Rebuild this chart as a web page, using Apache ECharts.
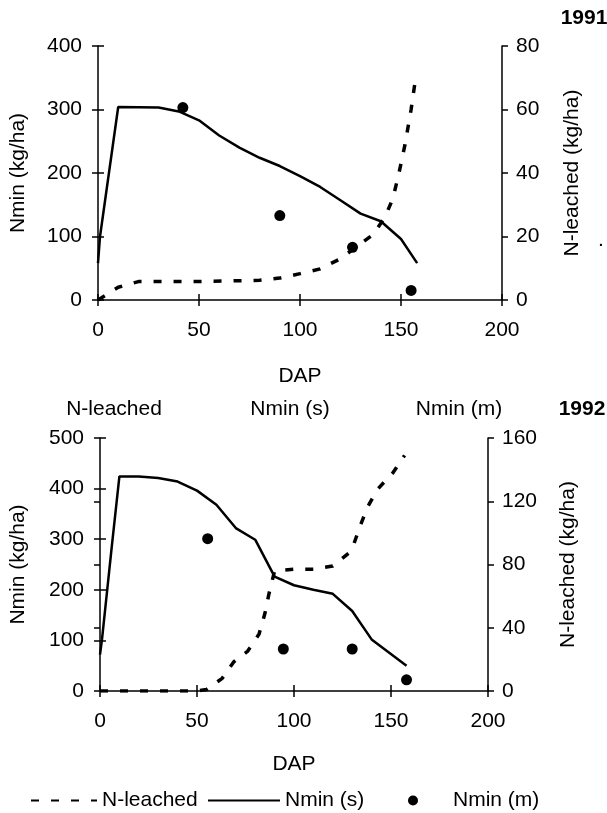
<!DOCTYPE html>
<html lang="en">
<head>
<meta charset="UTF-8">
<title>Nmin / N-leached 1991-1992</title>
<style>
    html, body { margin: 0; padding: 0; background: #fff; }
    #main { width: 607px; height: 813px; }
</style>
</head>
<body>
<div id="main"></div>
<script src="https://cdn.jsdelivr.net/npm/echarts@6/dist/echarts.min.js"></script>
<script>
    // 1991
    var leach91X = [0, 10, 20, 50, 80, 90, 100, 110, 120, 128, 136, 142, 146, 149, 152, 155, 157.5];
    var leach91Y = [0, 4, 5.8, 5.8, 6.2, 6.9, 8.3, 9.8, 13, 16.8, 20.5, 26, 32, 40, 49, 60, 71];
    var nminS91X = [0, 1, 10, 30, 40, 50, 60, 70, 80, 90, 100, 110, 120, 130, 140, 150, 158];
    var nminS91Y = [58, 100, 304, 303, 297, 283, 259, 240, 224, 211, 195, 178, 157, 136, 124, 96, 58];
    var nminM91X = [42, 90, 126, 155];
    var nminM91Y = [303, 133, 83, 15];

    // 1992
    var leach92X = [0, 50, 55, 63, 69, 76, 82, 85, 87, 90, 100, 110, 120, 129, 131, 134, 138, 143, 151, 157];
    var leach92Y = [0, 0, 1, 8, 18.5, 25, 36, 49, 61, 76, 77, 77, 79, 88, 93.5, 104, 116.5, 127.5, 138, 149];
    var nminS92X = [0, 1, 6, 10, 20, 30, 40, 50, 60, 70, 80, 90, 100, 110, 120, 130, 140, 158];
    var nminS92Y = [72, 101, 283, 424, 424, 421, 414, 396, 368, 322, 299, 226, 209, 200, 192, 158, 102, 50];
    var nminM92X = [55.5, 94.5, 130, 158];
    var nminM92Y = [301, 83, 83, 22];

    var FONT = "'Liberation Sans', Arial, sans-serif";
    var FS = 21;

    function pairs(xs, ys) {
        var out = [];
        for (var i = 0; i < xs.length; i++) out.push([xs[i], ys[i]]);
        return out;
    }

    function lbl(margin) {
        return {margin: margin, fontSize: FS, color: '#000', fontFamily: FONT};
    }

    // main axis + a second one with inside ticks so the ticks cross the line
    function xAxes(grid, nameGap) {
        return [
            {gridIndex: grid, type: 'value', min: 0, max: 200, interval: 50, position: 'bottom',
                name: 'DAP', nameLocation: 'middle', nameGap: nameGap,
                nameTextStyle: {fontSize: FS, color: '#000', fontFamily: FONT},
                axisLine: {onZero: false, lineStyle: {color: '#000', width: 1.5}},
                axisTick: {length: 6, lineStyle: {color: '#000', width: 1.5}},
                axisLabel: lbl(20), splitLine: {show: false}},
            {gridIndex: grid, type: 'value', min: 0, max: 200, interval: 50, position: 'bottom',
                axisLine: {show: false},
                axisTick: {inside: true, length: 6, lineStyle: {color: '#000', width: 1.5}},
                axisLabel: {show: false}, splitLine: {show: false}}
        ];
    }

    function yAxes(grid, pos, name, max, interval, nameGap, margin) {
        return [
            {gridIndex: grid, type: 'value', min: 0, max: max, interval: interval, position: pos,
                name: name, nameLocation: 'middle', nameGap: nameGap,
                nameTextStyle: {fontSize: FS, color: '#000', fontFamily: FONT},
                axisLine: {show: true, onZero: false, lineStyle: {color: '#000', width: 1.5}},
                axisTick: {length: 6, lineStyle: {color: '#000', width: 1.5}},
                axisLabel: lbl(margin), splitLine: {show: false}},
            {gridIndex: grid, type: 'value', min: 0, max: max, interval: interval, position: pos,
                axisLine: {show: false},
                axisTick: {inside: true, length: 6, lineStyle: {color: '#000', width: 1.5}},
                axisLabel: {show: false}, splitLine: {show: false}}
        ];
    }

    function leachSeries(x, y, xi, yi) {
        return {name: 'N-leached', type: 'line', xAxisIndex: xi, yAxisIndex: yi,
            data: pairs(x, y), symbol: 'none', showSymbol: false, z: 3,
            lineStyle: {color: '#000', width: 3.5, type: [8, 12]}, itemStyle: {color: '#000'}};
    }
    function nminSSeries(x, y, xi, yi) {
        return {name: 'Nmin (s)', type: 'line', xAxisIndex: xi, yAxisIndex: yi,
            data: pairs(x, y), symbol: 'none', showSymbol: false, z: 3,
            lineStyle: {color: '#000', width: 2.5}, itemStyle: {color: '#000'}};
    }
    function nminMSeries(x, y, xi, yi) {
        return {name: 'Nmin (m)', type: 'scatter', xAxisIndex: xi, yAxisIndex: yi,
            data: pairs(x, y), symbol: 'circle', symbolSize: 11, z: 4,
            itemStyle: {color: '#000', opacity: 1}};
    }

    function txt(s, x, y, bold) {
        return {type: 'text', x: x, y: y, silent: true,
            style: {text: s, fill: '#000', fontSize: FS, fontFamily: FONT,
                fontWeight: bold ? 'bold' : 'normal', align: 'center', verticalAlign: 'middle'}};
    }

    function legendItem(name, left, width, hideSymbol) {
        var l = {data: [name], left: left, top: 785, orient: 'horizontal',
            itemWidth: width, itemHeight: 10, itemGap: 0, selectedMode: false,
            textStyle: {fontSize: FS, color: '#000', fontFamily: FONT}};
        // line series draw a circle in the middle of the icon; the reference has none
        if (hideSymbol) l.itemStyle = {opacity: 0};
        return l;
    }

    var option = {
        animation: false,
        backgroundColor: '#fff',
        grid: [
            {left: 98, right: 105, top: 46, bottom: 513},
            {left: 100, right: 119, top: 438, bottom: 122}
        ],
        xAxis: xAxes(0, 66).concat(xAxes(1, 63)),
        yAxis: yAxes(0, 'left', 'Nmin (kg/ha)', 400, 100, 69, 16)
            .concat(yAxes(0, 'right', 'N-leached (kg/ha)', 80, 20, 60, 14))
            .concat(yAxes(1, 'left', 'Nmin (kg/ha)', 500, 100, 71, 16))
            .concat(yAxes(1, 'right', 'N-leached (kg/ha)', 160, 40, 70, 14)),
        legend: [
            legendItem('N-leached', 25, 66, true),
            legendItem('Nmin (s)', 202, 72, true),
            legendItem('Nmin (m)', 403, 70, false)
        ],
        graphic: [
            txt('1991', 584, 18, true),
            txt('.', 601, 240, false),
            txt('N-leached', 114, 409, false),
            txt('Nmin (s)', 290, 409, false),
            txt('Nmin (m)', 459, 409, false),
            txt('1992', 582, 409, true)
        ],
        series: [
            leachSeries(leach91X, leach91Y, 0, 2),
            nminSSeries(nminS91X, nminS91Y, 0, 0),
            nminMSeries(nminM91X, nminM91Y, 0, 0),
            leachSeries(leach92X, leach92Y, 2, 6),
            nminSSeries(nminS92X, nminS92Y, 2, 4),
            nminMSeries(nminM92X, nminM92Y, 2, 4)
        ]
    };

    var chart = echarts.init(document.getElementById('main'));
    chart.setOption(option);
</script>
</body>
</html>
